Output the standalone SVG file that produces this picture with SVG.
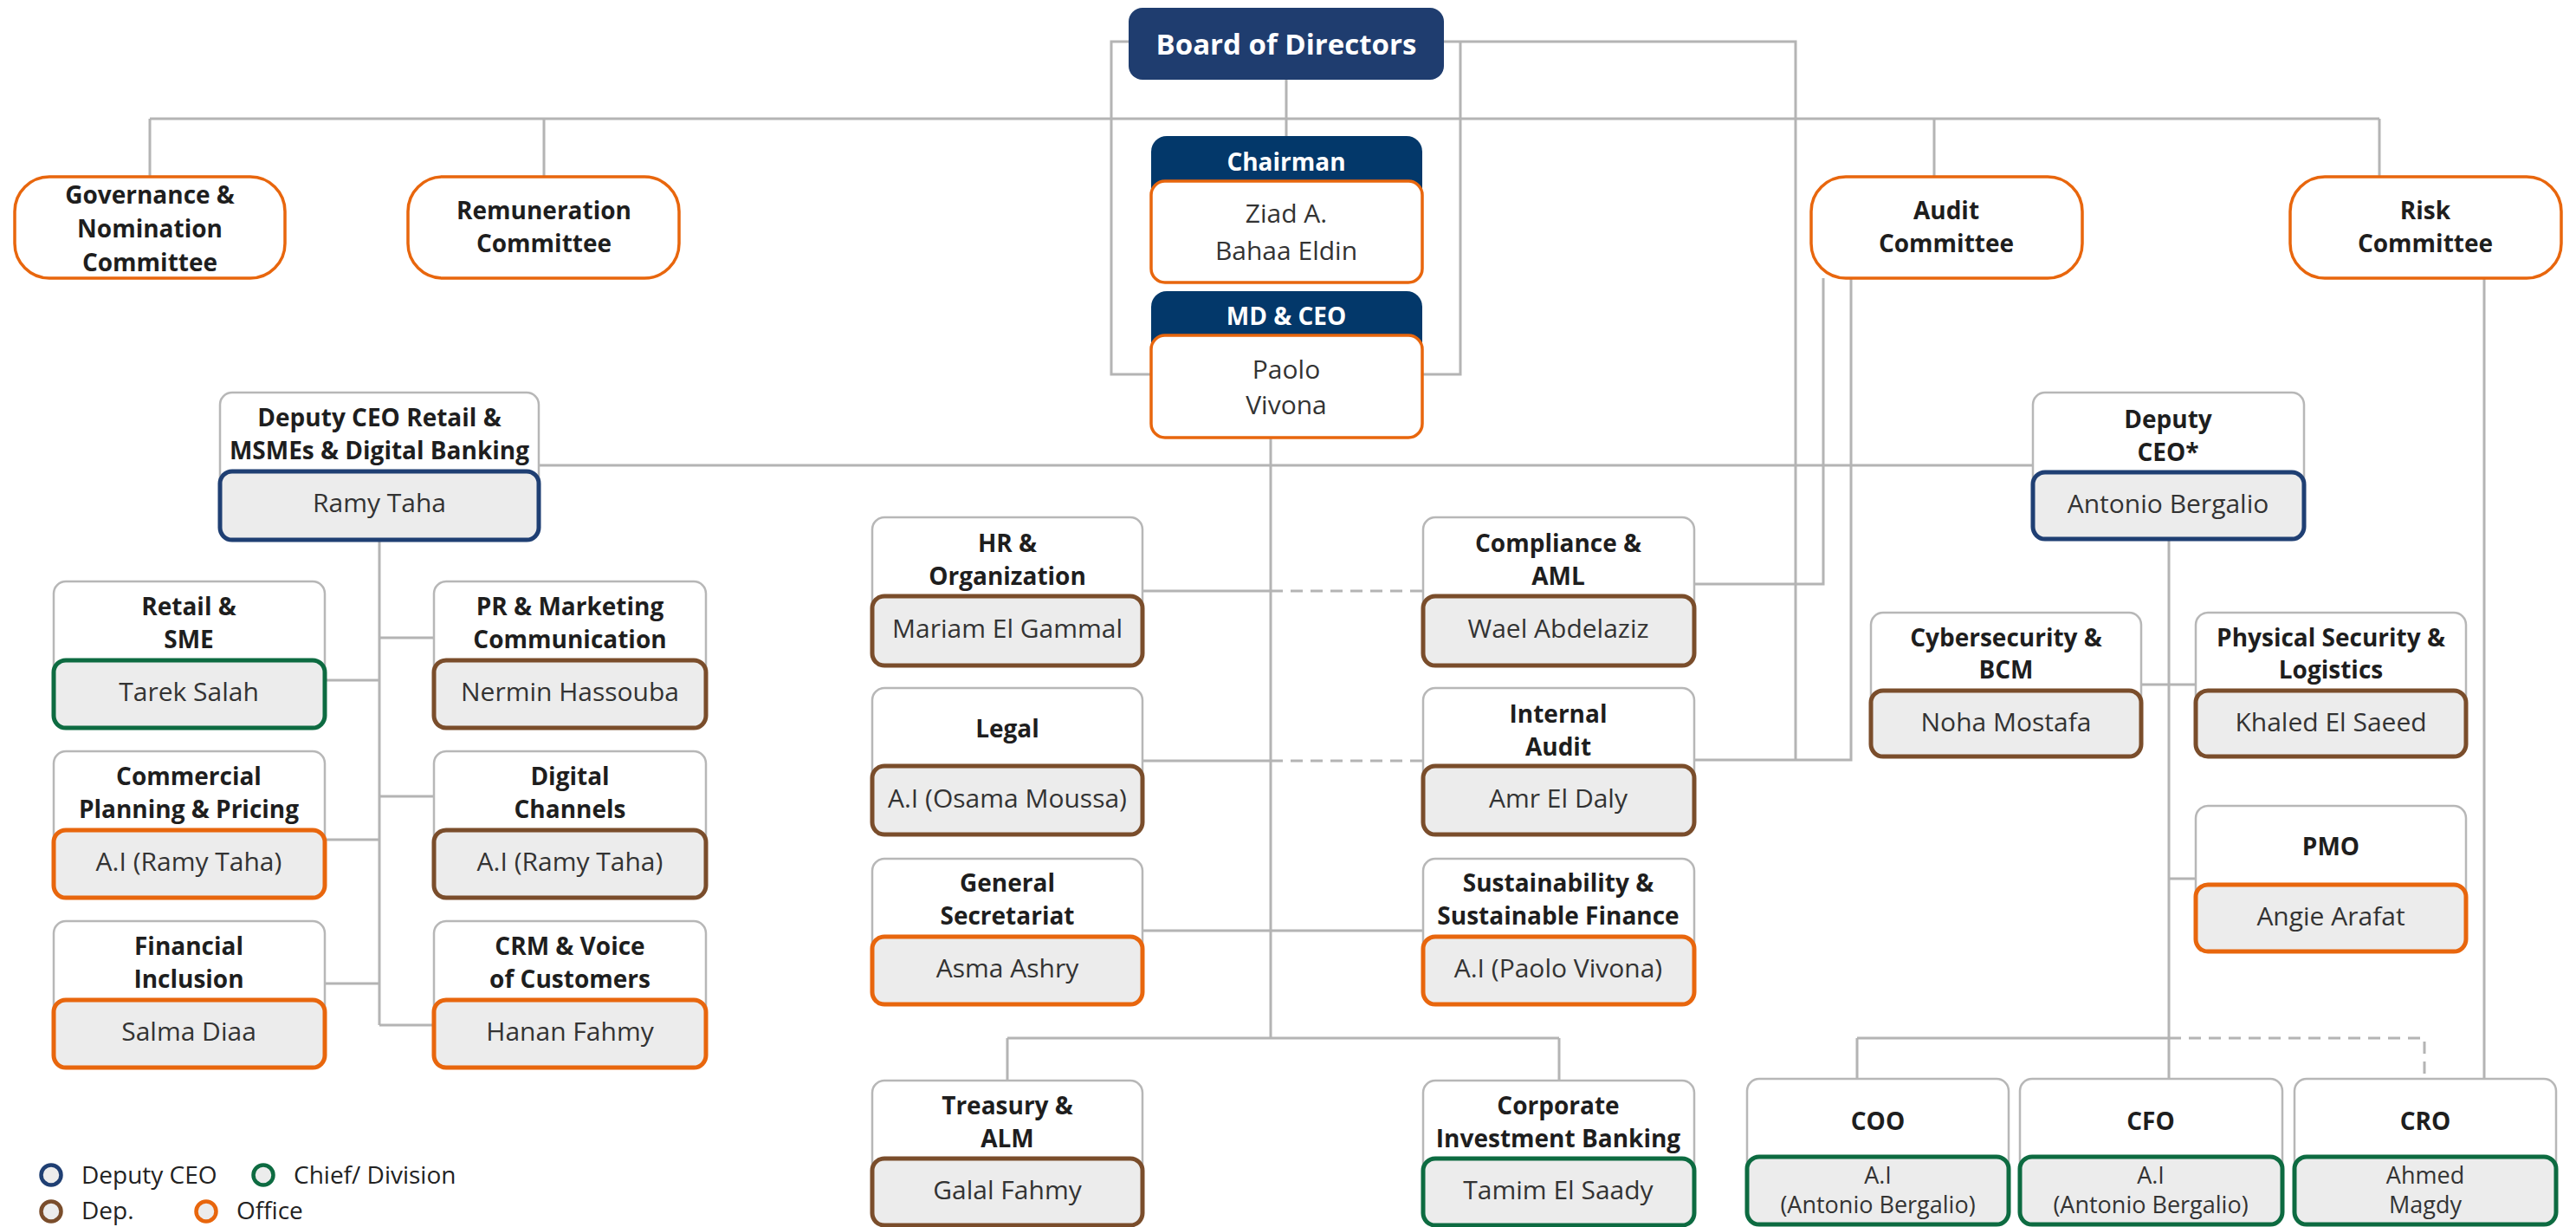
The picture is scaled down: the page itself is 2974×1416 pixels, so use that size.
<svg xmlns="http://www.w3.org/2000/svg" width="2974" height="1416" viewBox="0 0 2974 1416">
<style>
.ln{stroke:#b4b4b4;stroke-width:3;fill:none}
.ds{stroke-dasharray:14 9}
.ob{fill:#fff;stroke:#b7b7b7;stroke-width:2.5}
.nb{fill:#ececec;stroke-width:5}
.dc{stroke:#1f3f73}.ch{stroke:#0d6b41}.dp{stroke:#7a4d2b}.of{stroke:#e8660d}
.cm{fill:#fff;stroke:#e8660d;stroke-width:3.5}
.t{font-family:"Open Sans","Noto Sans",sans-serif;font-size:28px;font-weight:700;fill:#1e1e1e;text-anchor:middle}
.n{font-family:"Open Sans","Noto Sans",sans-serif;font-size:30px;fill:#333;text-anchor:middle}
.n2{font-size:27px}
.w{fill:#fff}
.lg{font-family:"Open Sans","Noto Sans",sans-serif;font-size:28px;fill:#222}
</style>
<rect width="2974" height="1416" fill="#fff"/>
<g id="connectors">
<path class="ln" d="M173,137H2747M173,137V204M628,137V204M2233,137V204M2747,137V204"/>
<path class="ln" d="M1485,92V157"/>
<path class="ln" d="M1303,48H1283V432H1329"/>
<path class="ln" d="M1667,48H2073V877M1686,48V432H1642"/>
<path class="ln" d="M2105,321V674H1956M2137,321V877H1956"/>
<path class="ln" d="M2868,321V1245"/>
<path class="ln" d="M1467,505V1198M1163,1198H1800M1163,1198V1247M1800,1198V1247"/>
<path class="ln" d="M622,537H2347"/>
<path class="ln" d="M438,623V1183M438,736H501M375,785H438M438,919H501M375,969H438M375,1135H438M438,1183H501"/>
<path class="ln" d="M1319,682H1467M1319,878H1467M1319,1074H1643"/>
<path class="ln ds" d="M1467,682H1643M1467,878H1643"/>
<path class="ln" d="M2504,622V1245M2472,790H2535M2504,1014H2535M2144,1198H2504M2144,1198V1245"/>
<path class="ln ds" d="M2504,1198H2799V1245"/>
</g>
<g id="board">
<rect x="1303" y="9" width="364" height="83" rx="16" fill="#1f3d6f"/>
<text x="1485" y="63" class="t w" style="font-size:33px">Board of Directors</text>
</g>
<g id="chairman">
<rect x="1329" y="157" width="313" height="100" rx="18" fill="#03386a"/>
<text x="1485" y="197" class="t w">Chairman</text>
<rect x="1329" y="209" width="313" height="117" rx="16" fill="#fff" stroke="#e8660d" stroke-width="3.5"/>
<text x="1485" y="257" class="n">Ziad A.</text>
<text x="1485" y="300" class="n">Bahaa Eldin</text>
</g>
<g id="md-ceo">
<rect x="1329" y="336" width="313" height="100" rx="18" fill="#03386a"/>
<text x="1485" y="375" class="t w">MD &amp; CEO</text>
<rect x="1329" y="387" width="313" height="118" rx="16" fill="#fff" stroke="#e8660d" stroke-width="3.5"/>
<text x="1485" y="437" class="n">Paolo</text>
<text x="1485" y="478" class="n">Vivona</text>
</g>
<g id="governance">
<rect class="cm" x="17" y="204" width="312" height="117" rx="40"/>
<text class="t" x="173" y="235">Governance &amp;</text>
<text class="t" x="173" y="274">Nomination</text>
<text class="t" x="173" y="313">Committee</text>
</g>
<g id="remuneration">
<rect class="cm" x="471" y="204" width="313" height="117" rx="40"/>
<text class="t" x="628" y="253">Remuneration</text>
<text class="t" x="628" y="291">Committee</text>
</g>
<g id="audit-committee">
<rect class="cm" x="2091" y="204" width="313" height="117" rx="40"/>
<text class="t" x="2247" y="253">Audit</text>
<text class="t" x="2247" y="291">Committee</text>
</g>
<g id="risk-committee">
<rect class="cm" x="2644" y="204" width="313" height="117" rx="40"/>
<text class="t" x="2800" y="253">Risk</text>
<text class="t" x="2800" y="291">Committee</text>
</g>
<g id="deputy-ceo-retail">
<rect class="ob" x="254" y="453" width="368" height="170" rx="14"/>
<text class="t" x="438" y="492">Deputy CEO Retail &amp;</text>
<text class="t" x="438" y="530">MSMEs &amp; Digital Banking</text>
<rect class="nb dc" x="254" y="544" width="368" height="79" rx="14"/>
<text class="n" x="438" y="591">Ramy Taha</text>
</g>
<g id="retail-sme">
<rect class="ob" x="62" y="671" width="313" height="169" rx="14"/>
<text class="t" x="218" y="710">Retail &amp;</text>
<text class="t" x="218" y="748">SME</text>
<rect class="nb ch" x="62" y="762" width="313" height="78" rx="14"/>
<text class="n" x="218" y="809">Tarek Salah</text>
</g>
<g id="pr-marketing">
<rect class="ob" x="501" y="671" width="314" height="169" rx="14"/>
<text class="t" x="658" y="710">PR &amp; Marketing</text>
<text class="t" x="658" y="748">Communication</text>
<rect class="nb dp" x="501" y="762" width="314" height="78" rx="14"/>
<text class="n" x="658" y="809">Nermin Hassouba</text>
</g>
<g id="commercial-planning">
<rect class="ob" x="62" y="867" width="313" height="169" rx="14"/>
<text class="t" x="218" y="906">Commercial</text>
<text class="t" x="218" y="944">Planning &amp; Pricing</text>
<rect class="nb of" x="62" y="958" width="313" height="78" rx="14"/>
<text class="n" x="218" y="1005">A.I (Ramy Taha)</text>
</g>
<g id="digital-channels">
<rect class="ob" x="501" y="867" width="314" height="169" rx="14"/>
<text class="t" x="658" y="906">Digital</text>
<text class="t" x="658" y="944">Channels</text>
<rect class="nb dp" x="501" y="958" width="314" height="78" rx="14"/>
<text class="n" x="658" y="1005">A.I (Ramy Taha)</text>
</g>
<g id="financial-inclusion">
<rect class="ob" x="62" y="1063" width="313" height="169" rx="14"/>
<text class="t" x="218" y="1102">Financial</text>
<text class="t" x="218" y="1140">Inclusion</text>
<rect class="nb of" x="62" y="1154" width="313" height="78" rx="14"/>
<text class="n" x="218" y="1201">Salma Diaa</text>
</g>
<g id="crm-voice">
<rect class="ob" x="501" y="1063" width="314" height="169" rx="14"/>
<text class="t" x="658" y="1102">CRM &amp; Voice</text>
<text class="t" x="658" y="1140">of Customers</text>
<rect class="nb of" x="501" y="1154" width="314" height="78" rx="14"/>
<text class="n" x="658" y="1201">Hanan Fahmy</text>
</g>
<g id="hr">
<rect class="ob" x="1007" y="597" width="312" height="171" rx="14"/>
<text class="t" x="1163" y="637">HR &amp;</text>
<text class="t" x="1163" y="675">Organization</text>
<rect class="nb dp" x="1007" y="688" width="312" height="80" rx="14"/>
<text class="n" x="1163" y="736">Mariam El Gammal</text>
</g>
<g id="legal">
<rect class="ob" x="1007" y="794" width="312" height="169" rx="14"/>
<text class="t" x="1163" y="851">Legal</text>
<rect class="nb dp" x="1007" y="884" width="312" height="79" rx="14"/>
<text class="n" x="1163" y="932">A.I (Osama Moussa)</text>
</g>
<g id="general-secretariat">
<rect class="ob" x="1007" y="991" width="312" height="168" rx="14"/>
<text class="t" x="1163" y="1029">General</text>
<text class="t" x="1163" y="1067">Secretariat</text>
<rect class="nb of" x="1007" y="1081" width="312" height="78" rx="14"/>
<text class="n" x="1163" y="1128">Asma Ashry</text>
</g>
<g id="compliance">
<rect class="ob" x="1643" y="597" width="313" height="171" rx="14"/>
<text class="t" x="1799" y="637">Compliance &amp;</text>
<text class="t" x="1799" y="675">AML</text>
<rect class="nb dp" x="1643" y="688" width="313" height="80" rx="14"/>
<text class="n" x="1799" y="736">Wael Abdelaziz</text>
</g>
<g id="internal-audit">
<rect class="ob" x="1643" y="794" width="313" height="169" rx="14"/>
<text class="t" x="1799" y="834">Internal</text>
<text class="t" x="1799" y="872">Audit</text>
<rect class="nb dp" x="1643" y="884" width="313" height="79" rx="14"/>
<text class="n" x="1799" y="932">Amr El Daly</text>
</g>
<g id="sustainability">
<rect class="ob" x="1643" y="991" width="313" height="168" rx="14"/>
<text class="t" x="1799" y="1029">Sustainability &amp;</text>
<text class="t" x="1799" y="1067">Sustainable Finance</text>
<rect class="nb of" x="1643" y="1081" width="313" height="78" rx="14"/>
<text class="n" x="1799" y="1128">A.I (Paolo Vivona)</text>
</g>
<g id="treasury">
<rect class="ob" x="1007" y="1247" width="312" height="167" rx="14"/>
<text class="t" x="1163" y="1286">Treasury &amp;</text>
<text class="t" x="1163" y="1324">ALM</text>
<rect class="nb dp" x="1007" y="1337" width="312" height="77" rx="14"/>
<text class="n" x="1163" y="1384">Galal Fahmy</text>
</g>
<g id="corporate-ib">
<rect class="ob" x="1643" y="1247" width="313" height="167" rx="14"/>
<text class="t" x="1799" y="1286">Corporate</text>
<text class="t" x="1799" y="1324">Investment Banking</text>
<rect class="nb ch" x="1643" y="1337" width="313" height="77" rx="14"/>
<text class="n" x="1799" y="1384">Tamim El Saady</text>
</g>
<g id="deputy-ceo">
<rect class="ob" x="2347" y="453" width="313" height="169" rx="14"/>
<text class="t" x="2503" y="494">Deputy</text>
<text class="t" x="2503" y="532">CEO*</text>
<rect class="nb dc" x="2347" y="545" width="313" height="77" rx="14"/>
<text class="n" x="2503" y="592">Antonio Bergalio</text>
</g>
<g id="cybersecurity">
<rect class="ob" x="2160" y="707" width="312" height="166" rx="14"/>
<text class="t" x="2316" y="746">Cybersecurity &amp;</text>
<text class="t" x="2316" y="783">BCM</text>
<rect class="nb dp" x="2160" y="797" width="312" height="76" rx="14"/>
<text class="n" x="2316" y="844">Noha Mostafa</text>
</g>
<g id="physical-security">
<rect class="ob" x="2535" y="707" width="312" height="166" rx="14"/>
<text class="t" x="2691" y="746">Physical Security &amp;</text>
<text class="t" x="2691" y="783">Logistics</text>
<rect class="nb dp" x="2535" y="797" width="312" height="76" rx="14"/>
<text class="n" x="2691" y="844">Khaled El Saeed</text>
</g>
<g id="pmo">
<rect class="ob" x="2535" y="930" width="312" height="168" rx="14"/>
<text class="t" x="2691" y="987">PMO</text>
<rect class="nb of" x="2535" y="1021" width="312" height="77" rx="14"/>
<text class="n" x="2691" y="1068">Angie Arafat</text>
</g>
<g id="coo">
<rect class="ob" x="2017" y="1245" width="302" height="168" rx="14"/>
<text class="t" x="2168" y="1304">COO</text>
<rect class="nb ch" x="2017" y="1335" width="302" height="78" rx="14"/>
<text class="n n2" x="2168" y="1366">A.I</text>
<text class="n n2" x="2168" y="1400">(Antonio Bergalio)</text>
</g>
<g id="cfo">
<rect class="ob" x="2332" y="1245" width="303" height="168" rx="14"/>
<text class="t" x="2483" y="1304">CFO</text>
<rect class="nb ch" x="2332" y="1335" width="303" height="78" rx="14"/>
<text class="n n2" x="2483" y="1366">A.I</text>
<text class="n n2" x="2483" y="1400">(Antonio Bergalio)</text>
</g>
<g id="cro">
<rect class="ob" x="2649" y="1245" width="302" height="168" rx="14"/>
<text class="t" x="2800" y="1304">CRO</text>
<rect class="nb ch" x="2649" y="1335" width="302" height="78" rx="14"/>
<text class="n n2" x="2800" y="1366">Ahmed</text>
<text class="n n2" x="2800" y="1400">Magdy</text>
</g>
<g id="legend">
<circle cx="59" cy="1356" r="11.5" fill="#ececec" stroke="#1f3f73" stroke-width="4.5"/>
<text class="lg" x="94" y="1366">Deputy CEO</text>
<circle cx="304" cy="1356" r="11.5" fill="#ececec" stroke="#0d6b41" stroke-width="4.5"/>
<text class="lg" x="339" y="1366">Chief/ Division</text>
<circle cx="59" cy="1398" r="11.5" fill="#ececec" stroke="#7a4d2b" stroke-width="4.5"/>
<text class="lg" x="94" y="1407">Dep.</text>
<circle cx="238" cy="1398" r="11.5" fill="#ececec" stroke="#e8660d" stroke-width="4.5"/>
<text class="lg" x="273" y="1407">Office</text>
</g>
</svg>
